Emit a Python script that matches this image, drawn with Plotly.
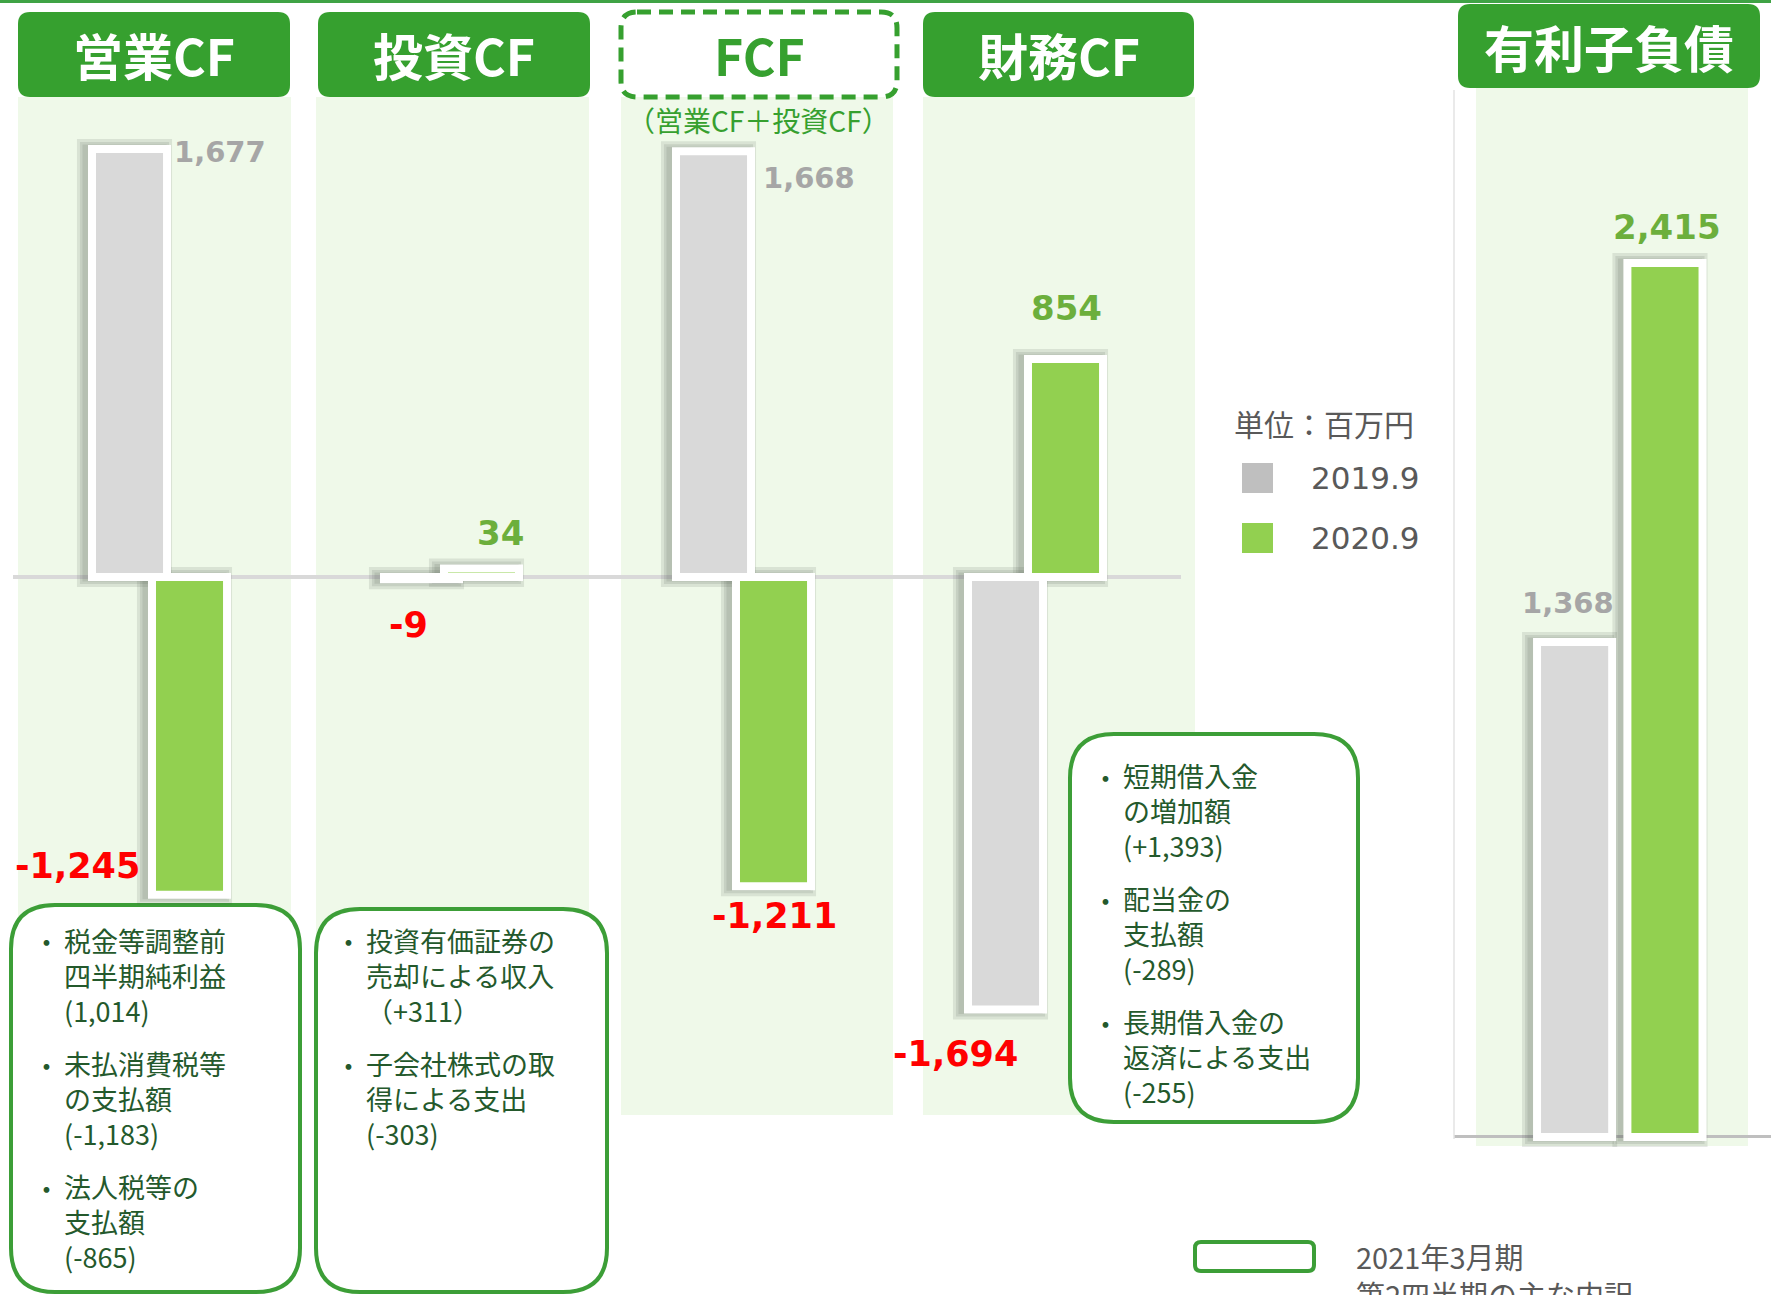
import plotly.graph_objects as go

W, H = 1771, 1295

# data (百万円)
CATEGORIES = ["営業CF", "投資CF", "FCF", "財務CF"]
VALUES_2019 = [1677, -9, 1668, -1694]
VALUES_2020 = [-1245, 34, -1211, 854]
DEBT_CATEGORY = ["有利子負債"]
DEBT_2019 = [1368]
DEBT_2020 = [2415]
SERIES = ["2019.9", "2020.9"]

NOTES_OPERATING = [("税金等調整前", "四半期純利益", "(1,014)"),
                   ("未払消費税等", "の支払額", "(-1,183)"),
                   ("法人税等の", "支払額", "(-865)")]
NOTES_INVESTING = [("投資有価証券の", "売却による収入", "（+311）"),
                   ("子会社株式の取", "得による支出", "(-303)")]
NOTES_FINANCING = [("短期借入金", "の増加額", "(+1,393)"),
                   ("配当金の", "支払額", "(-289)"),
                   ("長期借入金の", "返済による支出", "(-255)")]

GRAY_BAR = "#D9D9D9"
GREEN_BAR = "#92D050"
HEADER = "#36A02F"
BORDER = "#3C9E37"
PANEL = "#EFF9E9"
GRAY_TEXT = "#A6A6A6"
GREEN_TEXT = "#6CAF3C"
RED = "#FF0000"
NOTE = "#24592C"
DARK = "#595959"
SHADOW = "#4f5a4f"
CJK = "Noto Sans CJK JP"
NUM = "DejaVu Sans"

# label offsets in px from (category centre, bar end)
SHIFT_2019 = [(61, -3), (-43, -46), (66, -27), (-80, -45)]
SHIFT_2020 = [(-82, 29), (49, 35), (31, -30), (31, 51)]
SHIFT_DEBT = [(-45, 39), (54, 36)]


def X(x):
    return x / W


def Y(y):
    return 1 - y / H


def rrect(x0, y0, x1, y1, r):
    return (f"M {X(x0 + r)},{Y(y0)} L {X(x1 - r)},{Y(y0)} Q {X(x1)},{Y(y0)} {X(x1)},{Y(y0 + r)} "
            f"L {X(x1)},{Y(y1 - r)} Q {X(x1)},{Y(y1)} {X(x1 - r)},{Y(y1)} "
            f"L {X(x0 + r)},{Y(y1)} Q {X(x0)},{Y(y1)} {X(x0)},{Y(y1 - r)} "
            f"L {X(x0)},{Y(y0 + r)} Q {X(x0)},{Y(y0)} {X(x0 + r)},{Y(y0)} Z")


def text(s, x, y, size, color, anchor="left", family=CJK, weight="normal"):
    return dict(text=s, x=X(x), y=Y(y), xref="paper", yref="paper", xanchor=anchor,
                yanchor="middle", showarrow=False, align="left", borderpad=0,
                font=dict(family=family, size=size, color=color, weight=weight))


def shadows(x, y, offset, width, unit, xa, ya):
    # a few translucent layers fake a soft drop shadow
    return [go.Bar(x=x, y=y, offset=offset - 5 / unit, width=width, xaxis=xa, yaxis=ya,
                   marker=dict(color=SHADOW, line=dict(color=SHADOW, width=lw)),
                   opacity=0.13, hoverinfo="skip", showlegend=False)
            for lw in (20, 14, 9)]


def bar(x, y, offset, width, color, name, xa, ya):
    return go.Bar(x=x, y=y, offset=offset, width=width, xaxis=xa, yaxis=ya, name=name,
                  marker=dict(color=color, line=dict(color="white", width=8)),
                  showlegend=False)


fig = go.Figure()
for tr in (shadows(CATEGORIES, VALUES_2019, -0.2295, 0.257, 292, "x", "y")
           + shadows(CATEGORIES, VALUES_2020, -0.024, 0.257, 292, "x", "y")
           + shadows(DEBT_CATEGORY, DEBT_2019, -0.238, 0.237, 317, "x2", "y2")
           + shadows(DEBT_CATEGORY, DEBT_2020, 0.047, 0.237, 317, "x2", "y2")):
    fig.add_trace(tr)
fig.add_trace(bar(CATEGORIES, VALUES_2019, -0.2295, 0.257, GRAY_BAR, SERIES[0], "x", "y"))
fig.add_trace(bar(CATEGORIES, VALUES_2020, -0.024, 0.257, GREEN_BAR, SERIES[1], "x", "y"))
fig.add_trace(bar(DEBT_CATEGORY, DEBT_2019, -0.238, 0.237, GRAY_BAR, SERIES[0], "x2", "y2"))
fig.add_trace(bar(DEBT_CATEGORY, DEBT_2020, 0.047, 0.237, GREEN_BAR, SERIES[1], "x2", "y2"))

shapes = []
# light green panels
for x0, x1, y0, y1 in [(18, 291, 97, 1115), (316, 589, 97, 1115), (621, 893, 97, 1115),
                       (923, 1195, 97, 1115), (1476, 1748, 88, 1146)]:
    shapes.append(dict(type="rect", xref="paper", yref="paper", x0=X(x0), x1=X(x1), y0=Y(y1), y1=Y(y0),
                       fillcolor=PANEL, line=dict(width=0), layer="below"))
# note boxes
for x0, y0, x1, y1 in [(11, 905, 300, 1292), (316, 909, 607, 1292), (1070, 734, 1358, 1122)]:
    shapes.append(dict(type="path", xref="paper", yref="paper", path=rrect(x0, y0, x1, y1, 44),
                       fillcolor="white", line=dict(color=BORDER, width=4), layer="below"))
# headers
header_boxes = [(18, 290, 12, 97), (318, 590, 12, 97), None, (923, 1194, 12, 97)]
annotations = []
for name, box in zip(CATEGORIES, header_boxes):
    if box is None:
        continue
    x0, x1, y0, y1 = box
    shapes.append(dict(type="path", xref="paper", yref="paper", path=rrect(x0, y0, x1, y1, 12),
                       fillcolor=HEADER, line=dict(width=0)))
    annotations.append(text(name, (x0 + x1) / 2, 54, 50, "white", "center", weight="bold"))
shapes.append(dict(type="path", xref="paper", yref="paper", path=rrect(621, 12, 897, 97, 16),
                   fillcolor="white", line=dict(color=HEADER, width=5, dash="14px,8px")))
annotations.append(text(CATEGORIES[2], 759, 54, 50, HEADER, "center", weight="bold"))
annotations.append(text("（営業CF＋投資CF）", 758, 120, 28, HEADER, "center"))
shapes.append(dict(type="path", xref="paper", yref="paper", path=rrect(1458, 4, 1760, 88, 12),
                   fillcolor=HEADER, line=dict(width=0)))
annotations.append(text(DEBT_CATEGORY[0], 1609, 46, 50, "white", "center", weight="bold"))

# top rule and right-panel frame line
shapes.append(dict(type="line", xref="paper", yref="paper", x0=0, x1=1, y0=Y(1.5), y1=Y(1.5),
                   line=dict(color="#3FA345", width=3)))
shapes.append(dict(type="line", xref="paper", yref="paper", x0=X(1454), x1=X(1454), y0=Y(1139), y1=Y(90),
                   line=dict(color="#E3E3E3", width=1.5)))

# unit legend
annotations.append(text("単位：百万円", 1233, 423, 30, DARK))
for i, (name, color) in enumerate(zip(SERIES, ["#BFBFBF", GREEN_BAR])):
    yc = 478 + i * 60
    shapes.append(dict(type="rect", xref="paper", yref="paper", x0=X(1242), x1=X(1273),
                       y0=Y(yc + 15), y1=Y(yc - 15), fillcolor=color, line=dict(width=0)))
    annotations.append(text(name, 1310, yc, 31, DARK, family=NUM))

# bottom key
shapes.append(dict(type="path", xref="paper", yref="paper", path=rrect(1195, 1242, 1314, 1271, 6),
                   fillcolor="white", line=dict(color=BORDER, width=4)))
annotations.append(text("2021年3月期<br>第2四半期の主な内訳", 1355, 1275, 29, DARK))

# notes: one bullet + one 3-line block per item
for notes, dot_x, text_x, y0 in [(NOTES_OPERATING, 61, 63, 942), (NOTES_INVESTING, 363, 365, 942),
                                 (NOTES_FINANCING, 1120, 1122, 777)]:
    for g, lines in enumerate(notes):
        gy = y0 + g * 123
        annotations.append(text("・", dot_x, gy, 27, NOTE, "right"))
        annotations.append(text("<br>".join(lines), text_x, gy + 33, 27, NOTE))


# value labels
def value_label(cat, v, shift, pos_color, size, xa, ya):
    neg = v < 0
    return dict(text=f"{v:,}", x=cat, y=v, xref=xa, yref=ya, xshift=shift[0], yshift=shift[1],
                xanchor="center", yanchor="middle", showarrow=False,
                font=dict(family=NUM, size=35 if neg else size, color=RED if neg else pos_color,
                          weight="bold"))


for cat, v, sh in zip(CATEGORIES, VALUES_2019, SHIFT_2019):
    annotations.append(value_label(cat, v, sh, GRAY_TEXT, 29, "x", "y"))
for cat, v, sh in zip(CATEGORIES, VALUES_2020, SHIFT_2020):
    annotations.append(value_label(cat, v, sh, GREEN_TEXT, 34, "x", "y"))
annotations.append(value_label(DEBT_CATEGORY[0], DEBT_2019[0], SHIFT_DEBT[0], GRAY_TEXT, 29, "x2", "y2"))
annotations.append(value_label(DEBT_CATEGORY[0], DEBT_2020[0], SHIFT_DEBT[1], GREEN_TEXT, 34, "x2", "y2"))

hidden = dict(showticklabels=False, showgrid=False, ticks="", showline=False, fixedrange=True)
fig.update_layout(
    width=W, height=H, margin=dict(l=0, r=0, t=0, b=0),
    paper_bgcolor="white", plot_bgcolor="rgba(0,0,0,0)",
    barmode="overlay", showlegend=False,
    xaxis=dict(domain=[X(13), X(1181)], type="category", range=[-0.5, 3.5], zeroline=False, **hidden),
    yaxis=dict(domain=[0, 1], range=[-2813, 2261], zeroline=True, zerolinecolor="#D9D9D9",
               zerolinewidth=4, **hidden),
    xaxis2=dict(domain=[X(1454), 1], anchor="y2", type="category", range=[-0.5, 0.5], zeroline=False,
                **hidden),
    yaxis2=dict(domain=[0, 1], anchor="x2", range=[-437, 3142], zeroline=True, zerolinecolor="#BFBFBF",
                zerolinewidth=3, **hidden),
    shapes=shapes, annotations=annotations,
)

fig.write_html("out.html", config={"displayModeBar": False},
               post_script="document.body.style.margin = '0';")
